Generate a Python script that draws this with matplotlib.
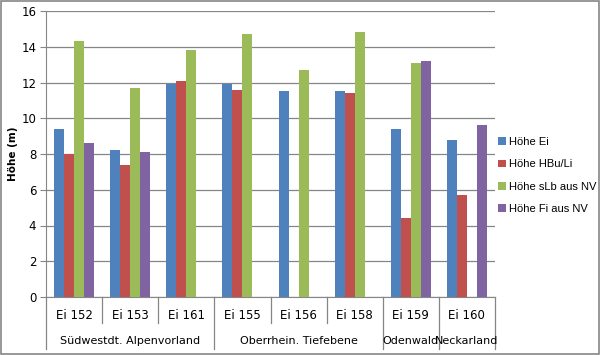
import numpy as np
import matplotlib.pyplot as plt
from matplotlib.patches import Rectangle

# Daten
baeume = ['Ei 152', 'Ei 153', 'Ei 161', 'Ei 155', 'Ei 156', 'Ei 158', 'Ei 159', 'Ei 160']
regionen = ['Südwestdt. Alpenvorland', 'Oberrhein. Tiefebene', 'Odenwald', 'Neckarland']
regionen_anzahl = [3, 3, 1, 1]

serien = ['Höhe Ei', 'Höhe HBu/Li', 'Höhe sLb aus NV', 'Höhe Fi aus NV']
hoehe_ei = [9.4, 8.2, 11.9, 11.9, 11.5, 11.5, 9.4, 8.8]
hoehe_hbu = [8.0, 7.4, 12.1, 11.6, np.nan, 11.4, 4.4, 5.7]
hoehe_slb = [14.3, 11.7, 13.8, 14.7, 12.7, 14.8, 13.1, np.nan]
hoehe_fi = [8.6, 8.1, np.nan, np.nan, np.nan, np.nan, 13.2, 9.6]
farben = ['#4F81BD', '#C0504D', '#9BBB59', '#8064A2']

plt.rcParams['font.family'] = ['DejaVu Sans']
fig = plt.figure(figsize=(6.0, 3.55), dpi=100)
ax = fig.add_axes([46 / 600, 1 - 297 / 355, 449 / 600, 286 / 355])

x = np.arange(len(baeume))
breite = 0.178
werte = [hoehe_ei, hoehe_hbu, hoehe_slb, hoehe_fi]
for i, (name, w, f) in enumerate(zip(serien, werte, farben)):
    ax.bar(x + (i - 1.5) * breite, w, breite, color=f, label=name, zorder=3)

ax.set_xlim(-0.5, len(baeume) - 0.5)
ax.set_ylim(0, 16)
ax.set_yticks(np.arange(0, 17, 2))
ax.tick_params(axis='y', labelsize=8.5, length=4, color='#868686', pad=3)
ax.set_xticks([])
ax.grid(axis='y', color='#868686', linewidth=0.9, zorder=0)
for s in ['top', 'right']:
    ax.spines[s].set_visible(False)
ax.spines['left'].set_color('#868686')
ax.spines['bottom'].set_color('#868686')
ax.set_ylabel('Höhe (m)', fontsize=7.5, fontweight='bold', labelpad=2)

# mehrstufige Kategorienachse
trans = ax.get_xaxis_transform()
for xi, name in zip(x, baeume):
    ax.text(xi, -0.063, name, transform=trans, ha='center', va='center', fontsize=8.5)

grenzen = np.cumsum([0] + regionen_anzahl) - 0.5
for g0, g1, reg in zip(grenzen[:-1], grenzen[1:], regionen):
    ax.text((g0 + g1) / 2, -0.154, reg, transform=trans, ha='center', va='center', fontsize=8)
for g in np.arange(-0.5, len(baeume)):
    unten = -0.182 if g in grenzen else -0.091
    ax.plot([g, g], [0, unten], transform=trans, color='#868686', linewidth=0.9, clip_on=False)

ax.legend(loc='upper left', bbox_to_anchor=(496 / 600, 1 - 135 / 355), bbox_transform=fig.transFigure,
          frameon=False, prop={'family': 'Liberation Sans', 'size': 8}, handlelength=0.7,
          handleheight=0.7, handletextpad=0.3, labelspacing=1.1, borderaxespad=0,
          borderpad=0.2)

fig.patches.append(Rectangle((0.001, 0.002), 0.997, 0.995, transform=fig.transFigure,
                             fill=False, edgecolor='#868686', linewidth=1.2))

plt.savefig('out.png', dpi=100)
